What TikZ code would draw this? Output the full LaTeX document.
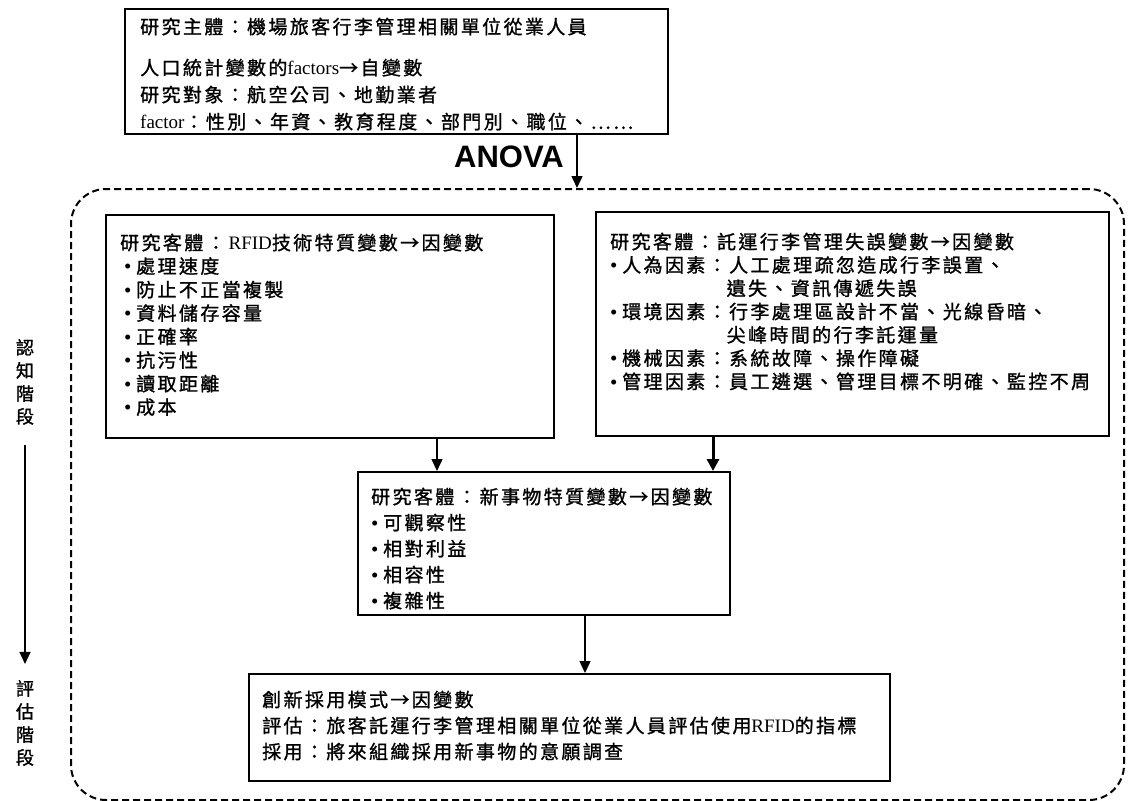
\documentclass[tikz,border=0pt]{standalone}
\usepackage{fontspec}
\setmainfont{Noto Sans CJK TC}[LetterSpace=12.5, FakeBold=1.2]
\newfontfamily\latf{Liberation Serif}
\newfontfamily\anovaf{Liberation Sans}
\newfontfamily\sidef{Noto Sans CJK TC}[FakeBold=1.5]
\newcommand\lt[1]{{\latf #1}}
\newcommand\bu{\makebox[12pt][l]{\latf\fontsize{21}{21}\selectfont\raisebox{-0.5pt}{•}}}
\usetikzlibrary{arrows.meta}
\begin{document}
\begin{tikzpicture}[x=1pt,y=-1pt,
  box/.style={draw, line width=1.6pt, inner sep=0pt, anchor=north west},
  txt/.style={anchor=north west, inner sep=0pt, align=left},
  arr/.style={line width=1.5pt, -{Triangle[length=12pt,width=11pt]}},
  arrthick/.style={line width=3pt, -{Triangle[length=12pt,width=12pt]}},
  sidetxt/.style={inner sep=0pt, align=center, font=\sidef\fontsize{18}{23}\selectfont}]
\useasboundingbox (0,0) rectangle (1128,801);

% dashed frame
\node[draw, dash pattern=on 7pt off 4pt, line width=2pt, rounded corners=35pt,
  minimum width=1053pt, minimum height=611pt, anchor=north west, inner sep=0pt] (D) at (70,188) {};

% top box
\node[box, minimum width=543pt, minimum height=125pt] (T) at (124,8) {};
\node[txt, font=\fontsize{19}{27}\selectfont] (Tt) at (140,17.5)
  {研究主體：機場旅客行李管理相關單位從業人員\\[14pt]
   人口統計變數的\lt{factors}→自變數\\
   研究對象：航空公司、地勤業者\\
   \lt{factor}：性別、年資、教育程度、部門別、職位、……};

\node[inner sep=0pt, font=\anovaf\bfseries\fontsize{31}{33}\selectfont] (AN) at (509,157) {ANOVA};

% left box
\node[box, minimum width=448pt, minimum height=223pt] (L) at (105,214) {};
\node[txt, font=\fontsize{19}{23.5}\selectfont] (Lt) at (120,233.5)
  {研究客體\,：\,\lt{RFID}技術特質變數→因變數\\
   \hspace{4pt}\bu 處理速度\\
   \hspace{4pt}\bu 防止不正當複製\\
   \hspace{4pt}\bu 資料儲存容量\\
   \hspace{4pt}\bu 正確率\\
   \hspace{4pt}\bu 抗污性\\
   \hspace{4pt}\bu 讀取距離\\
   \hspace{4pt}\bu 成本};

% right box
\node[box, minimum width=513pt, minimum height=224pt] (R) at (595,211) {};
\node[txt, font=\fontsize{19}{23.3}\selectfont] (Rt) at (610,232.5)
  {研究客體：託運行李管理失誤變數→因變數\\
   \bu 人為因素：人工處理疏忽造成行李誤置、\\
   \phantom{\bu 人為因素：}遺失、資訊傳遞失誤\\
   \bu 環境因素：行李處理區設計不當、光線昏暗、\\
   \phantom{\bu 環境因素：}尖峰時間的行李託運量\\
   \bu 機械因素：系統故障、操作障礙\\
   \bu 管理因素：員工遴選、管理目標不明確、監控不周};

% middle box
\node[box, minimum width=372pt, minimum height=143pt] (M) at (357,471) {};
\node[txt, font=\fontsize{19}{26}\selectfont] (Mt) at (371,487.5)
  {研究客體\,：\,新事物特質變數→因變數\\
   \bu 可觀察性\\
   \bu 相對利益\\
   \bu 相容性\\
   \bu 複雜性};

% bottom box
\node[box, minimum width=641pt, minimum height=107pt] (B) at (248,673) {};
\node[txt, font=\fontsize{19}{26}\selectfont] (Bt) at (262,690.5)
  {創新採用模式→因變數\\
   評估：旅客託運行李管理相關單位從業人員評估使用\lt{RFID}的指標\\
   採用：將來組織採用新事物的意願調查};

% side labels
\node[sidetxt] (S1) at (25,382) {認\\知\\階\\段};
\node[sidetxt] (S2) at (25,723) {評\\估\\階\\段};

% connectors
\coordinate (ax) at (577,0);
\coordinate (lx) at (437,0);
\coordinate (rx) at (713,0);
\coordinate (mx) at (585,0);
\draw[arr] (T.south -| ax) -- (D.north -| ax);
\draw[arr] (L.south -| lx) -- (M.north -| lx);
\draw[arrthick] (R.south -| rx) -- (M.north -| rx);
\draw[arr] (M.south -| mx) -- (B.north -| mx);
\draw[arr, shorten <=20pt, shorten >=16pt] (S1.south) -- (S2.north);
\end{tikzpicture}
\end{document}
